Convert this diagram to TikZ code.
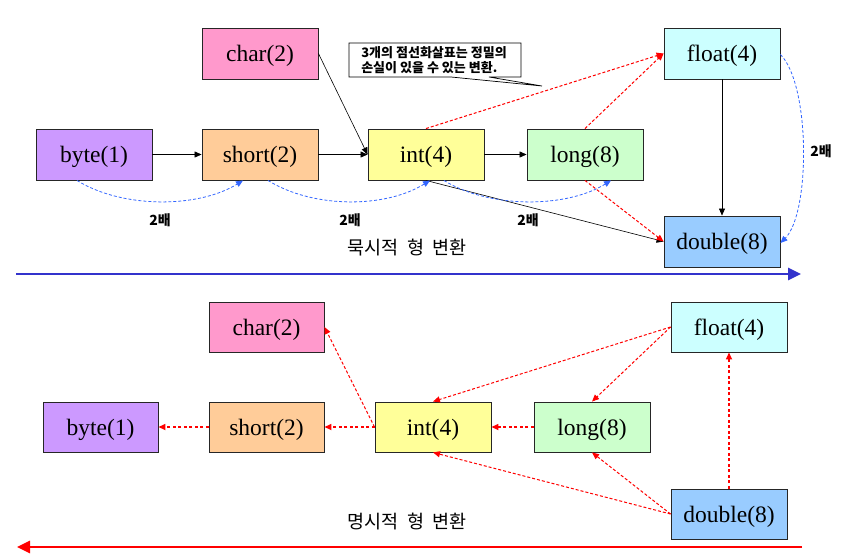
\documentclass[tikz,border=0pt]{standalone}
\usepackage{fontspec}
\setmainfont{Liberation Serif}
\newfontfamily\kr{Noto Sans CJK KR}
\usetikzlibrary{arrows.meta}
\definecolor{cchar}{HTML}{FF99CC}
\definecolor{cbyte}{HTML}{CC99FF}
\definecolor{cshort}{HTML}{FFCC99}
\definecolor{cint}{HTML}{FFFF99}
\definecolor{clong}{HTML}{CCFFCC}
\definecolor{cfloat}{HTML}{CCFFFF}
\definecolor{cdouble}{HTML}{99CCFF}
\definecolor{bluedash}{HTML}{3366FF}
\definecolor{bigblue}{HTML}{3333CC}
\definecolor{redline}{HTML}{FF0000}
\begin{document}
\begin{tikzpicture}[x=1pt,y=-1pt,
  box/.style={draw=black!85, line width=0.9pt, minimum width=116pt, minimum height=51pt, inner sep=0pt, text depth=0pt, font=\fontsize{23.5}{26}\selectfont},
  blk/.style={-{Triangle[length=7pt,width=6pt]}, line width=0.6pt, black},
  rd/.style={draw=redline, dash pattern=on 3pt off 2pt, line width=1pt, -{Triangle[length=7pt,width=6pt,fill=redline]}},
  rdh/.style={rd, line width=1.6pt, dash pattern=on 3pt off 2.5pt},
  bd/.style={draw=bluedash, dash pattern=on 3pt off 2pt, line width=0.8pt, -{Triangle[length=7pt,width=6pt,fill=bluedash]}},
  lbl/.style={font=\kr\bfseries\fontsize{14}{16}\selectfont},
  title/.style={font=\kr\fontsize{18.5}{20}\selectfont},
  bigarrow/.style={line width=2.6pt, -{Triangle[length=13pt,width=12pt]}}]
\useasboundingbox (0,0) rectangle (848,557);

% ---------- top: implicit conversion ----------
\node[box, fill=cchar]   (char)   at (260,53.5)  {char(2)};
\node[box, fill=cbyte]   (byte)   at (94,154.5)  {byte(1)};
\node[box, fill=cshort]  (short)  at (260,154.5) {short(2)};
\node[box, fill=cint]    (int)    at (426,154.5) {int(4)};
\node[box, fill=clong]   (long)   at (585,154.5) {long(8)};
\node[box, fill=cfloat]  (float)  at (722,53.5)  {float(4)};
\node[box, fill=cdouble] (double) at (722,241.5) {double(8)};

\draw[blk] (byte.east) -- (short.west);
\draw[blk] (short.east) -- (int.west);
\draw[blk] (int.east) -- (long.west);
\draw[blk] (char.east) -- (int.west);
\draw[blk] (float.south) -- (double.north);
\draw[blk] (int.south) -- (double.west);

\draw[rd] (int.north) -- (float.west);
\draw[rd] (long.north) -- (float.west);
\draw[rd] (long.south) -- (double.west);

\draw[bd] ([xshift=-17pt]byte.south) .. controls +(45,28) and +(-45,28) .. ([xshift=-17pt]short.south);
\draw[bd] ([xshift=8pt]short.south) .. controls +(45,28) and +(-45,28) .. ([xshift=4pt]int.south);
\draw[bd] ([xshift=18pt]int.south) .. controls +(45,28) and +(-45,28) .. ([xshift=26pt]long.south);
\draw[bd] ([yshift=-1pt]float.east) .. controls +(30,30) and +(30,-30) .. ([yshift=-1.5pt]double.east);

\node[lbl] (l1) at (160,220) {2배};
\node[lbl] (l2) at (350,220) {2배};
\node[lbl] (l3) at (528,220) {2배};
\node[lbl] (l4) at (821,151) {2배};

% callout
\draw[fill=white, line width=0.7pt] (349,43) -- (521,43) -- (521,77) -- (489,77) -- (542,86) -- (451,77) -- (349,77) -- cycle;
\node[font=\kr\bfseries\fontsize{13}{15}\selectfont, align=left, inner sep=0pt] (note) at (434,60)
  {3개의 점선화살표는 정밀의\\ 손실이 있을 수 있는 변환.};

\node[title] (t1) at (407,248) {묵시적\ \ 형\ \ 변환};
\coordinate (b1) at (16,274);
\coordinate (b2) at (801,274);
\draw[bigarrow, bigblue] (b1) -- (b2);

% ---------- bottom: explicit conversion ----------
\node[box, fill=cchar, minimum width=115pt, minimum height=50pt]   (char2)   at (266.5,327)   {char(2)};
\node[box, fill=cbyte, minimum width=115pt, minimum height=50pt]   (byte2)   at (100.5,427) {byte(1)};
\node[box, fill=cshort, minimum width=115pt, minimum height=50pt]  (short2)  at (266.5,427) {short(2)};
\node[box, fill=cint, minimum width=116pt, minimum height=50pt]    (int2)    at (433,427)   {int(4)};
\node[box, fill=clong, minimum width=116pt, minimum height=50pt]   (long2)   at (592,427)   {long(8)};
\node[box, fill=cfloat, minimum width=116pt, minimum height=50pt]  (float2)  at (729,327)     {float(4)};
\node[box, fill=cdouble, minimum width=116pt, minimum height=50pt] (double2) at (729,514)     {double(8)};

\draw[rdh] (short2.west) -- (byte2.east);
\draw[rdh] (int2.west) -- (short2.east);
\draw[rd] (int2.west) -- (char2.east);
\draw[rdh] (long2.west) -- (int2.east);
\draw[rd] (float2.west) -- (int2.north);
\draw[rd] (float2.west) -- (long2.north);
\draw[rd] (double2.west) -- (int2.south);
\draw[rd] (double2.west) -- (long2.south);
\draw[rdh] (double2.north) -- (float2.south);

\node[title] (t2) at (407,521) {명시적\ \ 형\ \ 변환};
\coordinate (r1) at (802,547);
\coordinate (r2) at (17,547);
\draw[bigarrow, redline] (r1) -- (r2);
\end{tikzpicture}
\end{document}
